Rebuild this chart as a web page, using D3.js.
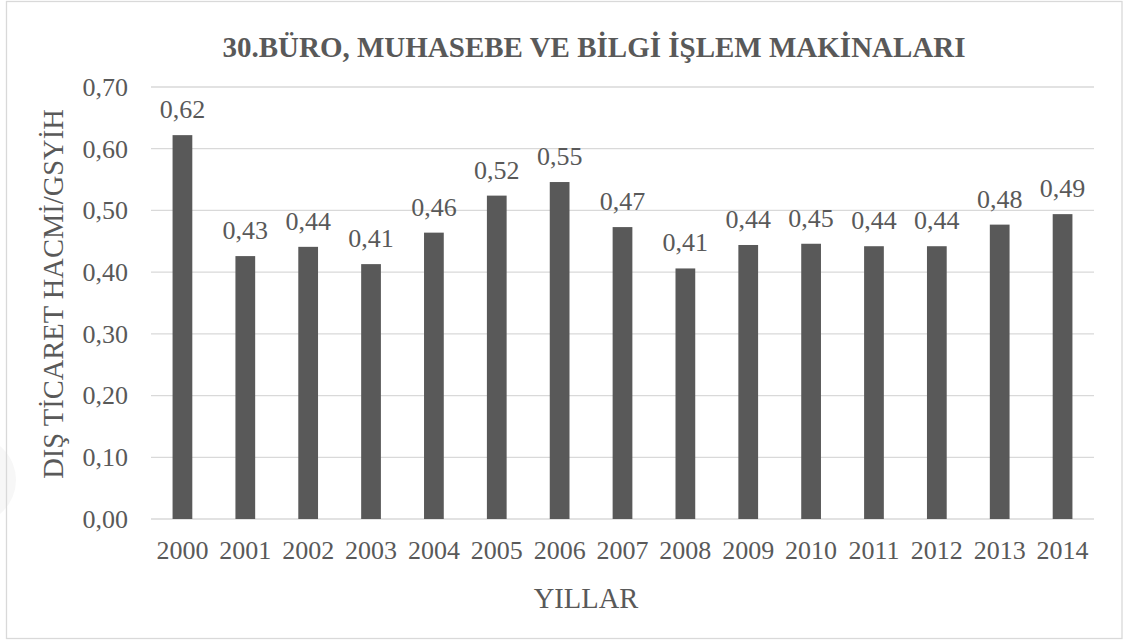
<!DOCTYPE html>
<html>
<head>
<meta charset="utf-8">
<script src="https://cdn.jsdelivr.net/npm/d3@7"></script>
<style>
  html, body { margin: 0; padding: 0; background: #fff; }
  svg { display: block; }
  text { fill: #595959; }
</style>
</head>
<body>
<svg id="chart" width="1125" height="641"></svg>
<script>
const years = ["2000","2001","2002","2003","2004","2005","2006","2007","2008","2009","2010","2011","2012","2013","2014"];
const values = [0.622, 0.426, 0.441, 0.413, 0.464, 0.524, 0.546, 0.473, 0.406, 0.444, 0.446, 0.442, 0.442, 0.477, 0.494];
const yTicks = [0, 0.1, 0.2, 0.3, 0.4, 0.5, 0.6, 0.7];
const titleText = "30.BÜRO, MUHASEBE VE BİLGİ İŞLEM MAKİNALARI";
const yTitle = "DIŞ TİCARET HACMİ/GSYİH";
const xTitle = "YILLAR";

const FONT = "'Liberation Serif', Tinos, 'Times New Roman', Times, 'Nimbus Roman', 'DejaVu Serif', serif";

const svg = d3.select("#chart");
const plot = { left: 151, right: 1094, top: 87, bottom: 519 };

// faint watermark arc at left edge
svg.append("circle").attr("cx", -28).attr("cy", 480).attr("r", 44)
  .attr("fill", "#f7f7f7");

// chart border
svg.append("rect").attr("x", 6.5).attr("y", 1.5).attr("width", 1115.5).attr("height", 637)
  .attr("fill", "none").attr("stroke", "#d9d9d9").attr("stroke-width", 1.3);

const x = d3.scaleBand().domain(years).range([plot.left, plot.right])
  .paddingInner(0.686).paddingOuter(0.343);
const y = d3.scaleLinear().domain([0, 0.7]).range([plot.bottom, plot.top]);

const fmt = v => d3.format(".2f")(v).replace(".", ",");

// gridlines
svg.append("g").selectAll("line").data(yTicks).join("line")
  .attr("x1", plot.left).attr("x2", plot.right)
  .attr("y1", d => y(d)).attr("y2", d => y(d))
  .attr("stroke", "#d9d9d9").attr("stroke-width", 1.3);

// y axis labels
const yAxis = d3.axisLeft(y).tickValues(yTicks).tickFormat(fmt).tickSize(0).tickPadding(23);
const gy = svg.append("g").attr("transform", `translate(${plot.left},0)`).call(yAxis)
  .attr("font-family", FONT).attr("font-size", 26);
gy.select(".domain").remove();
gy.selectAll("text").attr("fill", "#595959");

// x axis labels
const xAxis = d3.axisBottom(x).tickSize(0).tickPadding(0);
const gx = svg.append("g").attr("transform", `translate(0,${plot.bottom})`).call(xAxis)
  .attr("font-family", FONT).attr("font-size", 26);
gx.select(".domain").remove();
gx.selectAll("text").attr("fill", "#595959").attr("dy", null).attr("y", 40.3);

// bars
svg.append("g").selectAll("rect").data(values).join("rect")
  .attr("x", (d, i) => x(years[i]))
  .attr("width", x.bandwidth())
  .attr("y", d => y(d))
  .attr("height", d => y(0) - y(d))
  .attr("fill", "#595959");

// data labels
svg.append("g").attr("font-family", FONT).selectAll("text").data(values).join("text")
  .attr("x", (d, i) => x(years[i]) + x.bandwidth() / 2)
  .attr("y", d => y(d) - 17)
  .attr("text-anchor", "middle")
  .attr("font-size", 26)
  .text(d => fmt(d));

const tg = svg.append("g").attr("font-family", FONT);
// title
tg.append("text").attr("x", 594).attr("y", 57)
  .attr("text-anchor", "middle").attr("font-size", 29).attr("font-weight", "bold")
  .text(titleText);

// axis titles
tg.append("text").attr("transform", "translate(63,294) rotate(-90)")
  .attr("text-anchor", "middle").attr("font-size", 28.5)
  .text(yTitle);

tg.append("text").attr("x", 586).attr("y", 608)
  .attr("text-anchor", "middle").attr("font-size", 28.5)
  .text(xTitle);
</script>
</body>
</html>
